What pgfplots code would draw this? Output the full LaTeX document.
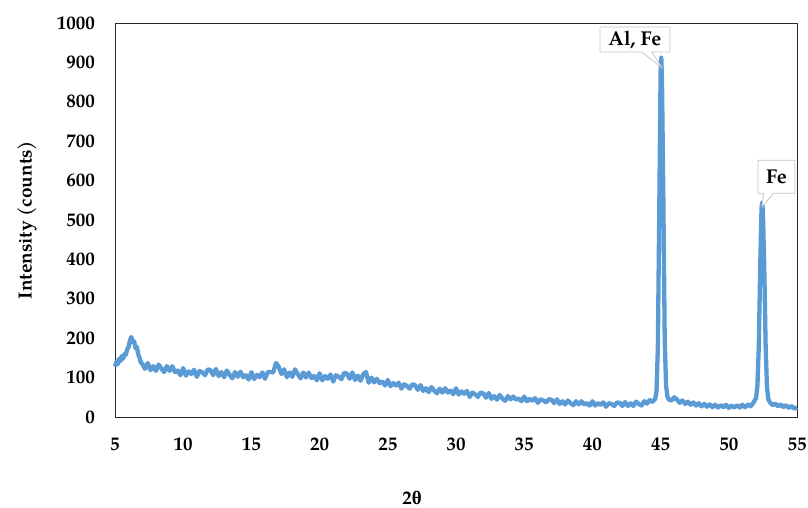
\documentclass[border=0pt]{standalone}
\usepackage{fontspec}
\setmainfont{TeX Gyre Pagella}
\newfontfamily\greekfont{Liberation Serif}
\usepackage{pgfplots}
\pgfplotsset{compat=1.18}
\usetikzlibrary{shapes.callouts}
\definecolor{xrdblue}{RGB}{91,155,213}
\definecolor{framegray}{RGB}{40,40,40}
\begin{document}
\begin{tikzpicture}
\useasboundingbox (-115pt,-91pt) rectangle (693pt,417pt);
\begin{axis}[
  at={(0,0)}, anchor=south west,
  width=682pt, height=394pt, scale only axis,
  xmin=5, xmax=55, ymin=0, ymax=1000,
  xtick={5,10,...,55}, ytick={0,100,...,1000},
  major tick length=0pt,
  axis line style={framegray, line width=0.9pt},
  /pgf/number format/assume math mode=true,
  /pgf/number format/1000 sep={},
  tick label style={font=\fontsize{19}{22}\selectfont\bfseries},
  yticklabel style={inner sep=0pt, xshift=-20pt},
  xticklabel style={inner sep=0pt, yshift=-21pt},
  ylabel={Intensity (counts)},
  ylabel style={at={(axis description cs:-0.129,0.5)}, anchor=center, font=\fontsize{19}{22}\selectfont\bfseries},
  xlabel={2{\greekfont θ}},
  xlabel style={at={(axis description cs:0.4355,-0.2056)}, anchor=center, font=\fontsize{19}{22}\selectfont\bfseries},
  clip=false,
]
\addplot[xrdblue, line width=4.3pt, line join=round, mark=none] coordinates {
(5.0,128)(5.1,140)(5.2,134)(5.3,148)(5.4,142)(5.5,155)(5.6,148)(5.7,160)(5.8,158)(5.9,172)
(6.0,178)(6.1,195)(6.2,203)(6.3,190)(6.4,192)(6.5,175)(6.6,178)(6.7,160)(6.8,150)(6.9,138)
(7.0,135)(7.2,122)(7.4,137)(7.6,119)(7.8,129)(8.0,117)(8.2,133)(8.4,123)(8.6,114)(8.8,129)
(9.0,117)(9.2,129)(9.4,114)(9.6,118)(9.8,106)(10.0,124)(10.2,105)(10.4,116)(10.6,109)(10.8,120)
(11.0,102)(11.2,117)(11.4,113)(11.6,106)(11.8,121)(12.0,119)(12.2,106)(12.4,122)(12.6,104)(12.8,114)
(13.0,101)(13.2,118)(13.4,107)(13.6,98)(13.8,114)(14.0,102)(14.2,115)(14.4,101)(14.6,106)(14.8,95)
(15.0,114)(15.2,96)(15.4,107)(15.6,101)(15.8,113)(16.0,97)(16.2,114)(16.4,114)(16.6,113)(16.8,137)
(17.0,128)(17.2,109)(17.4,121)(17.6,101)(17.8,113)(18.0,102)(18.2,121)(18.4,109)(18.6,98)(18.8,113)
(19.0,100)(19.2,113)(19.4,99)(19.6,104)(19.8,93)(20.0,111)(20.2,93)(20.4,104)(20.6,97)(20.8,108)
(21.0,90)(21.2,106)(21.4,102)(21.6,96)(21.8,112)(22.0,110)(22.2,97)(22.4,113)(22.6,94)(22.8,105)
(23.0,92)(23.2,109)(23.4,114)(23.6,87)(23.8,100)(24.0,88)(24.2,97)(24.4,86)(24.6,90)(24.8,80)
(25.0,94)(25.2,78)(25.4,86)(25.6,80)(25.8,87)(26.0,72)(26.2,83)(26.4,79)(26.6,72)(26.8,83)
(27.0,81)(27.2,69)(27.4,81)(27.6,66)(27.8,73)(28.0,63)(28.2,76)(28.4,67)(28.6,60)(28.8,72)
(29.0,62)(29.2,73)(29.4,62)(29.6,67)(29.8,58)(30.0,73)(30.2,57)(30.4,65)(30.6,59)(30.8,66)
(31.0,51)(31.2,62)(31.4,58)(31.6,51)(31.8,62)(32.0,60)(32.2,49)(32.4,61)(32.6,46)(32.8,53)
(33.0,44)(33.2,56)(33.4,47)(33.6,41)(33.8,53)(34.0,45)(34.2,52)(34.4,44)(34.6,47)(34.8,40)
(35.0,52)(35.2,40)(35.4,46)(35.6,41)(35.8,48)(36.0,36)(36.2,45)(36.4,42)(36.6,37)(36.8,45)
(37.0,44)(37.2,35)(37.4,45)(37.6,33)(37.8,40)(38.0,32)(38.2,42)(38.4,35)(38.6,30)(38.8,40)
(39.0,32)(39.2,40)(39.4,32)(39.6,35)(39.8,29)(40.0,40)(40.2,29)(40.4,35)(40.6,31)(40.8,37)
(41.0,26)(41.2,35)(41.4,33)(41.6,28)(41.8,37)(42.0,36)(42.2,28)(42.4,38)(42.6,28)(42.8,35)
(43.0,28)(43.2,39)(43.4,33)(43.6,29)(43.8,40)(44.0,34)(44.2,43)(44.4,38)(44.6,46)(44.7,65)
(44.8,180)(44.9,520)(45.0,880)(45.05,912)(45.1,860)(45.2,560)(45.3,200)(45.4,80)(45.5,52)(45.6,44)
(45.8,42)(46.0,50)(46.2,44)(46.4,36)(46.6,42)(46.8,33)(47.0,39)(47.2,31)(47.4,37)(47.6,29)
(47.8,35)(48.0,27)(48.2,33)(48.4,26)(48.6,32)(48.8,25)(49.0,31)(49.2,24)(49.4,30)(49.6,25)
(49.8,31)(50.0,23)(50.2,29)(50.4,24)(50.6,30)(50.8,24)(51.0,31)(51.2,25)(51.4,32)(51.6,27)
(51.8,36)(52.0,48)(52.1,80)(52.2,180)(52.3,380)(52.4,530)(52.45,545)(52.5,520)(52.6,380)(52.7,180)
(52.8,75)(52.9,45)(53.0,38)(53.2,30)(53.4,34)(53.6,27)(53.8,32)(54.0,25)(54.2,30)(54.4,23)
(54.6,28)(54.8,21)(55.0,25)
};
\node[rectangle callout, draw=gray!45, fill=white, line width=0.8pt, inner sep=0pt,
  minimum width=70pt, minimum height=25pt,
  callout pointer width=10pt,
  font=\fontsize{20}{22}\selectfont\bfseries,
  callout absolute pointer={(axis cs:45.10,886)}] at (axis cs:43.12,958) {Al, Fe};
\node[rectangle callout, draw=gray!45, fill=white, line width=0.8pt, inner sep=0pt,
  minimum width=37pt, minimum height=33pt,
  callout pointer width=10pt,
  font=\fontsize{20}{22}\selectfont\bfseries,
  callout absolute pointer={(axis cs:52.43,533)}] at (axis cs:53.50,610) {Fe};
\end{axis}
\end{tikzpicture}
\end{document}
